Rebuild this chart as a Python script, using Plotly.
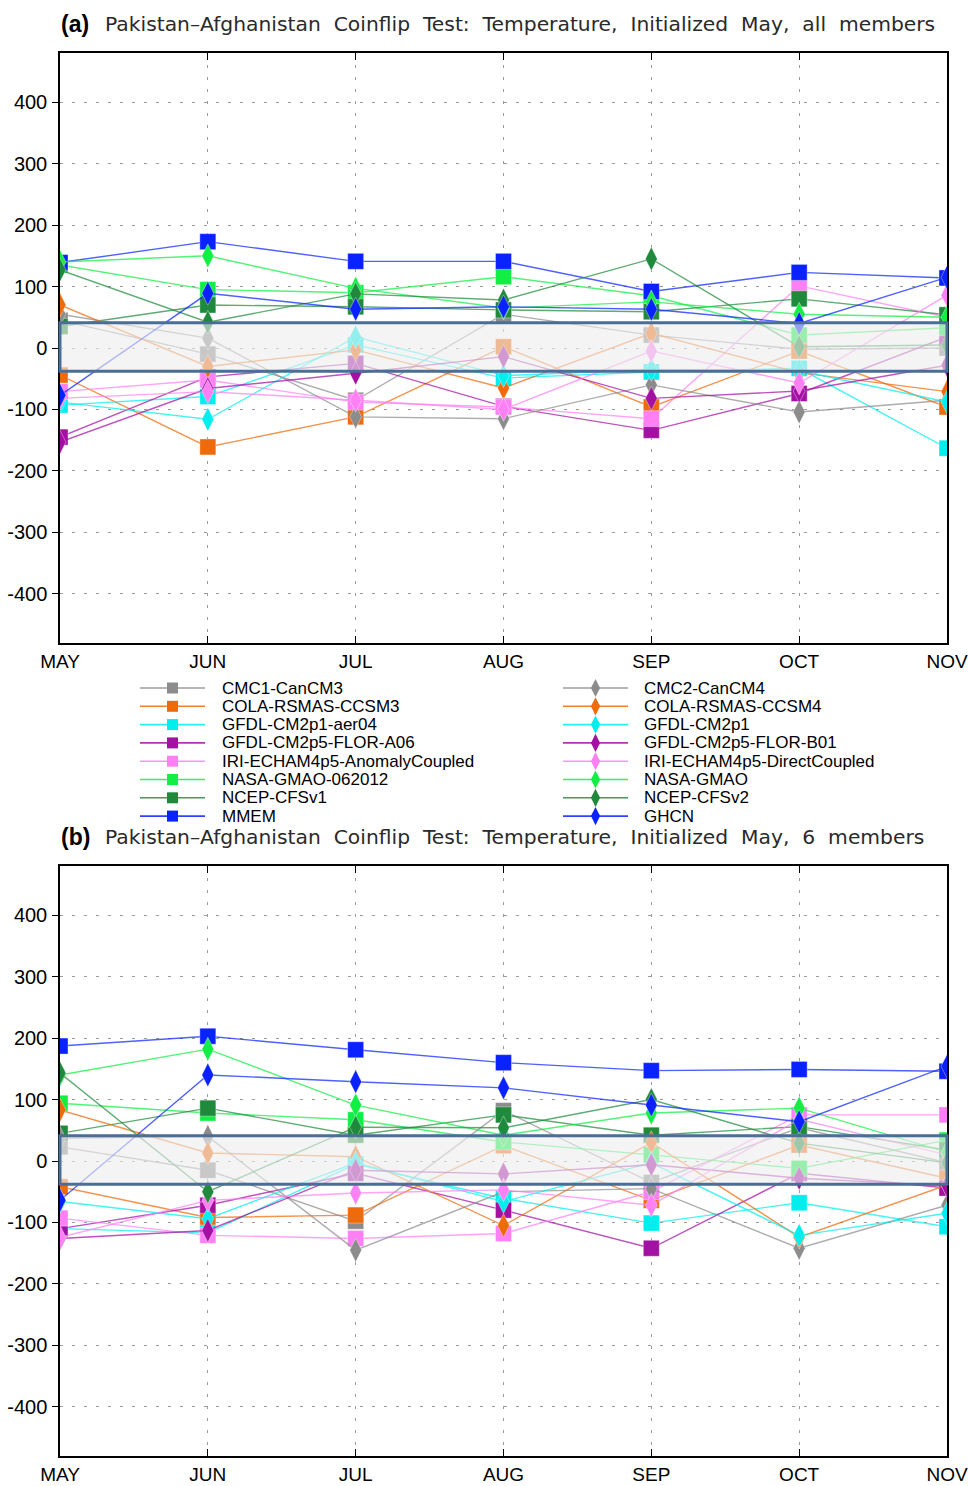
import plotly.graph_objects as go

# ---------------- data ----------------
months = ["MAY", "JUN", "JUL", "AUG", "SEP", "OCT", "NOV"]
y_ticks = [-400, -300, -200, -100, 0, 100, 200, 300, 400]

names_sq = ["CMC1-CanCM3", "COLA-RSMAS-CCSM3", "GFDL-CM2p1-aer04", "GFDL-CM2p5-FLOR-A06",
            "IRI-ECHAM4p5-AnomalyCoupled", "NASA-GMAO-062012", "NCEP-CFSv1", "MMEM"]
names_di = ["CMC2-CanCM4", "COLA-RSMAS-CCSM4", "GFDL-CM2p1", "GFDL-CM2p5-FLOR-B01",
            "IRI-ECHAM4p5-DirectCoupled", "NASA-GMAO", "NCEP-CFSv2", "GHCN"]

# panel (a): all members
a_cmc1 = [45, -10, -85, 55, 21, -2, 0]
a_cola3 = [-44, -161, -112, 2, -96, -5, -96]
a_aer04 = [-93, -79, 5, -49, -39, -33, -163]
a_a06 = [-145, -47, -25, -95, -134, -74, 18]
a_iria = [-71, -52, -88, -96, -115, 101, 50]
a_nasa12 = [135, 95, 90, 116, 85, 21, 33]
a_cfsv1 = [35, 70, 67, 62, 59, 80, 54]
a_mmem = [139, 173, 141, 141, 92, 123, 114]
a_cmc2 = [55, 16, -112, -115, -60, -104, -85]
a_cola4 = [70, -30, -3, -65, 24, -40, -71]
a_cm2p1 = [-88, -116, 18, -45, -35, -37, -88]
a_b01 = [-153, -66, -41, -14, -82, -70, -28]
a_irid = [-82, -71, -85, -100, -5, -57, 86]
a_nasa = [140, 150, 97, 65, 75, 55, 50]
a_cfsv2 = [127, 42, 88, 78, 145, 2, 5]
a_ghcn = [-77, 89, 63, 67, 63, 40, 115]

# panel (b): 6 members
b_cmc1 = [23, -15, -98, 82, -35, 54, -3]
b_cola3 = [-42, -92, -88, 25, -64, 26, -28]
b_aer04 = [-110, -117, -5, -61, -101, -68, -107]
b_a06 = [-110, -72, -20, -80, -142, -20, -44]
b_iria = [-93, -121, -126, -118, -50, 75, 75]
b_nasa12 = [94, 78, 67, 31, 10, -12, 34]
b_cfsv1 = [45, 86, 42, 75, 42, 56, 18]
b_mmem = [187, 203, 181, 160, 147, 149, 146]
b_cmc2 = [37, 40, -145, -50, -45, -142, -72]
b_cola4 = [83, 13, 7, -105, 30, -124, -39]
b_cm2p1 = [-66, -94, -3, -66, -3, -121, -85]
b_b01 = [-126, -113, -15, -21, -6, -28, -40]
b_irid = [-124, -64, -52, -47, -72, 68, 10]
b_nasa = [140, 182, 91, 42, 78, 86, 14]
b_cfsv2 = [143, -50, 55, 54, 100, 29, -3]
b_ghcn = [-64, 140, 129, 119, 91, 64, 154]

band_lo = -38
band_hi = 41

titles = ["Pakistan\u2013Afghanistan  Coinflip  Test:  Temperature,  Initialized  May,  all  members",
          "Pakistan\u2013Afghanistan  Coinflip  Test:  Temperature,  Initialized  May,  6  members"]
panel_tags = ["(a)", "(b)"]

# ---------------- styling ----------------
family_colors = ["#8c8c8c", "#ee6a0a", "#00eeee", "#a311a3", "#ff80f5", "#11ee44", "#208a3c", "#0a22ff"]


def rgba(hexc, a):
    h = hexc.lstrip("#")
    r, g, b = int(h[0:2], 16), int(h[2:4], 16), int(h[4:6], 16)
    return f"rgba({r},{g},{b},{a})"


panel_a_sq = [a_cmc1, a_cola3, a_aer04, a_a06, a_iria, a_nasa12, a_cfsv1, a_mmem]
panel_a_di = [a_cmc2, a_cola4, a_cm2p1, a_b01, a_irid, a_nasa, a_cfsv2, a_ghcn]
panel_b_sq = [b_cmc1, b_cola3, b_aer04, b_a06, b_iria, b_nasa12, b_cfsv1, b_mmem]
panel_b_di = [b_cmc2, b_cola4, b_cm2p1, b_b01, b_irid, b_nasa, b_cfsv2, b_ghcn]

# page body margin is removed by post_script, so figure pixels == page pixels
W, H = 968, 1486
ML, MT = 60, 53
MR = W - 947
MB = H - 1456
PW = W - ML - MR
PH = H - MT - MB


def px_x(p):
    return (p - ML) / PW


def px_y(p):
    return (H - MB - p) / PH


fig = go.Figure()

panels = [("x", "y", panel_a_sq, panel_a_di), ("x2", "y2", panel_b_sq, panel_b_di)]
for xa, ya, sq, di in panels:
    for symbol, group, names in (("square", sq, names_sq), ("diamond-tall", di, names_di)):
        for k, vals in enumerate(group):
            col = family_colors[k]
            fig.add_trace(go.Scatter(
                x=months, y=vals, xaxis=xa, yaxis=ya, name=names[k],
                mode="lines+markers", showlegend=False,
                line=dict(color=rgba(col, 0.72), width=1.4),
                marker=dict(symbol=symbol, size=16 if symbol == "square" else 17,
                            color=col, line=dict(width=0.6, color=rgba("#ffffff", 0.6))),
            ))

# ---------------- manual legend in its own axes ----------------
leg_top, leg_step = 688, 18.3
leg_cols = [(140, 205, 220), (563, 628, 642)]
annotations = []
for r in range(8):
    for c, (names, symbol) in enumerate(((names_sq, "square"), (names_di, "diamond-tall"))):
        x0, x1, xt = leg_cols[c]
        yy = leg_top + r * leg_step
        col = family_colors[r]
        fig.add_trace(go.Scatter(x=[x0, x1], y=[yy, yy], xaxis="x3", yaxis="y3", mode="lines",
                                 line=dict(color=rgba(col, 0.85), width=1.6), showlegend=False,
                                 hoverinfo="skip"))
        fig.add_trace(go.Scatter(x=[(x0 + x1) / 2], y=[yy], xaxis="x3", yaxis="y3", mode="markers",
                                 marker=dict(symbol=symbol, size=11 if symbol == "square" else 13,
                                             color=col), showlegend=False, hoverinfo="skip"))
        annotations.append(dict(x=xt, y=yy, xref="x3", yref="y3", text=names[r], showarrow=False,
                                xanchor="left", yanchor="middle",
                                font=dict(family="Liberation Sans, Arial", size=17, color="#000")))

# titles
for i, (tag, ttl) in enumerate(zip(panel_tags, titles)):
    ypix = 24 if i == 0 else 837
    annotations.append(dict(x=px_x(59), y=px_y(ypix), xref="paper", yref="paper", text=f"<b>{tag}</b>",
                            showarrow=False, xanchor="left", yanchor="middle",
                            font=dict(family="Liberation Sans, Arial", size=23, color="#000")))
    annotations.append(dict(x=px_x(103), y=px_y(ypix), xref="paper", yref="paper", text=ttl,
                            showarrow=False, xanchor="left", yanchor="middle",
                            font=dict(family="DejaVu Sans", size=20.3, color="#2a2a2a")))

# band shapes
shapes = []
for xa, ya in (("x", "y"), ("x2", "y2")):
    shapes.append(dict(type="rect", xref=f"{xa} domain", yref=ya, x0=0, x1=1, y0=band_lo, y1=band_hi,
                       fillcolor="rgba(238,238,238,0.62)", line=dict(color="#4a6e96", width=3),
                       layer="above"))

xaxis_common = dict(type="category", categoryorder="array", categoryarray=months, range=[0, 6],
                    automargin=False,
                    showgrid=True, gridcolor="#9a9a9a", griddash="3px,9px", gridwidth=1.2,
                    showline=True, linecolor="#000", linewidth=1.5, mirror="ticks",
                    ticks="inside", ticklen=7, tickcolor="#000", tickwidth=1,
                    tickfont=dict(family="Liberation Sans, Arial", size=19, color="#000"),
                    zeroline=False, fixedrange=True)
yaxis_common = dict(range=[-480, 480], tickvals=y_ticks, ticktext=[str(v) for v in y_ticks],
                    automargin=False,
                    showgrid=True, gridcolor="#9a9a9a", griddash="3px,9px", gridwidth=1.2,
                    showline=True, linecolor="#000", linewidth=1.5, mirror=True,
                    ticks="outside", ticklen=6, tickcolor="#000", tickwidth=1,
                    ticklabelstandoff=1,
                    tickfont=dict(family="Liberation Sans, Arial", size=20, color="#000"),
                    zeroline=False, fixedrange=True)

fig.update_layout(
    width=W, height=H, margin=dict(l=ML, r=MR, t=MT, b=MB, autoexpand=False),
    paper_bgcolor="white", plot_bgcolor="white",
    xaxis=dict(xaxis_common, anchor="y"),
    yaxis=dict(yaxis_common, domain=[px_y(643), px_y(53)], anchor="x"),
    xaxis2=dict(xaxis_common, anchor="y2"),
    yaxis2=dict(yaxis_common, domain=[px_y(1456), px_y(866)], anchor="x2"),
    xaxis3=dict(domain=[0, 1], range=[60, 947], visible=False, fixedrange=True, automargin=False),
    yaxis3=dict(domain=[px_y(828), px_y(678)], range=[828, 678], visible=False, fixedrange=True,
                anchor="x3", automargin=False),
    shapes=shapes, annotations=annotations, showlegend=False,
)

fig.write_html("out.html", config={"displayModeBar": False},
               post_script="document.body.style.margin='0';document.body.style.overflow='hidden';")
